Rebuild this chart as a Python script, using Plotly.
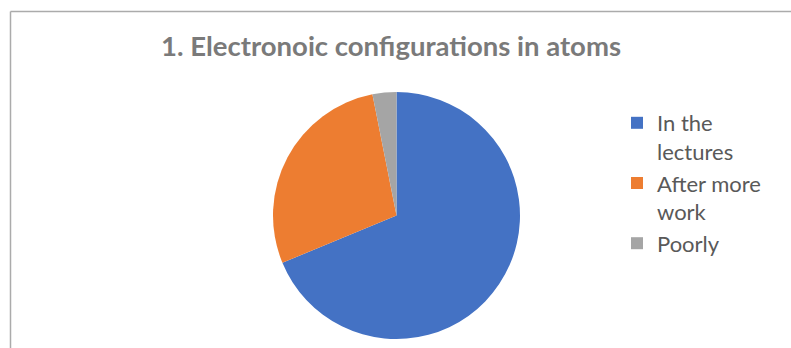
import plotly.graph_objects as go

# Survey responses: when students understood electronic configurations
labels = ["In the<br>lectures", "After more<br>work", "Poorly"]
counts = [22, 9, 1]
colors = ["#4472C4", "#ED7D31", "#A5A5A5"]

title_text = "1. Electronoic configurations in atoms"

W, H = 791, 348

fig = go.Figure(
    go.Pie(
        labels=labels,
        values=counts,
        marker=dict(colors=colors, line=dict(width=0)),
        sort=False,
        direction="clockwise",
        rotation=0,
        textinfo="none",
        hoverinfo="label+percent",
        domain=dict(x=[273 / W, 520 / W], y=[1 - 339 / H, 1 - 92 / H]),
    )
)

fig.update_layout(
    width=W,
    height=H,
    margin=dict(l=0, r=0, t=0, b=0),
    paper_bgcolor="white",
    font=dict(family="Lato, Open Sans, sans-serif", color="#595959"),
    title=dict(
        text="<b>" + title_text + "</b>",
        x=391 / W,
        xanchor="center",
        y=1 - 46 / H,
        yanchor="middle",
        font=dict(size=27.5, color="#7a7a7a", family="Lato, Open Sans, sans-serif"),
    ),
    legend=dict(
        x=617 / W,
        xanchor="left",
        y=1 - 102 / H,
        yanchor="top",
        valign="top",
        font=dict(size=22, color="#595959"),
        bgcolor="rgba(0,0,0,0)",
    ),
    shapes=[
        # chart-area frame (left and top edges)
        dict(type="line", xref="paper", yref="paper",
             x0=10.5 / W, x1=1.0, y0=1 - 11.5 / H, y1=1 - 11.5 / H,
             line=dict(color="#ababab", width=1.5)),
        dict(type="line", xref="paper", yref="paper",
             x0=10.5 / W, x1=10.5 / W, y0=1 - 11.5 / H, y1=0.0,
             line=dict(color="#ababab", width=1.5)),
    ],
)

fig.write_html("out.html")
